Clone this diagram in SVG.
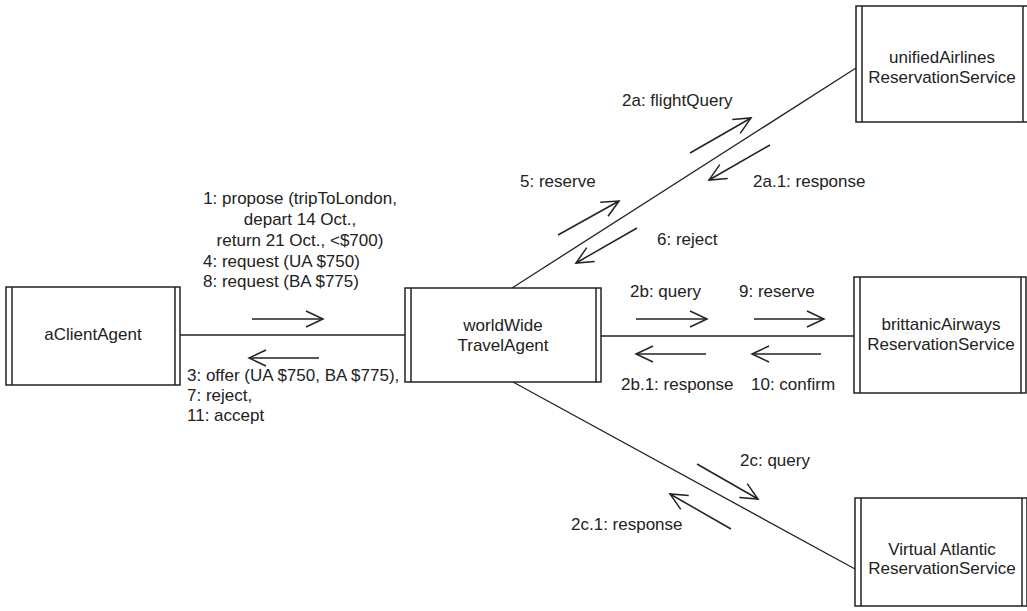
<svg xmlns="http://www.w3.org/2000/svg" width="1027" height="611" viewBox="0 0 1027 611">
<style>
.box{fill:#fff;stroke:#222;stroke-width:1.5}
.bar{stroke:#222;stroke-width:1.5}
.ln{stroke:#222;stroke-width:1.3;fill:none}
.ar{stroke:#222;stroke-width:1.5;fill:none;marker-end:url(#ah)}
text{font-family:"Liberation Sans",Arial,sans-serif;font-size:17px;fill:#222}
.c{text-anchor:middle}
</style>
<defs>
<marker id="ah" markerUnits="userSpaceOnUse" markerWidth="24" markerHeight="24" refX="18" refY="9" orient="auto">
<path d="M1,1 L18,9 L1,17" fill="none" stroke="#222" stroke-width="1.5"/>
</marker>
</defs>
<g id="connectors">
<line class="ln" x1="180" y1="335" x2="405" y2="335"/>
<line class="ln" x1="601" y1="336" x2="854" y2="336"/>
<line class="ln" x1="512" y1="288" x2="856" y2="68"/>
<line class="ln" x1="513" y1="382" x2="855" y2="569"/>
<line class="ar" x1="252" y1="319" x2="323" y2="319"/>
<line class="ar" x1="319" y1="358" x2="249" y2="358"/>
<line class="ar" x1="636" y1="319" x2="707" y2="319"/>
<line class="ar" x1="754" y1="319" x2="824" y2="319"/>
<line class="ar" x1="706" y1="354" x2="636" y2="354"/>
<line class="ar" x1="821" y1="354" x2="752" y2="354"/>
<line class="ar" x1="690" y1="153" x2="751" y2="118"/>
<line class="ar" x1="770" y1="145" x2="709" y2="180"/>
<line class="ar" x1="558" y1="235" x2="619" y2="201"/>
<line class="ar" x1="637" y1="228" x2="576" y2="263"/>
<line class="ar" x1="697" y1="464" x2="758" y2="499"/>
<line class="ar" x1="731" y1="529" x2="670" y2="494"/>
<text x="300" y="204" class="c">1: propose (tripToLondon,</text>
<text x="300" y="225" class="c">depart 14 Oct.,</text>
<text x="300" y="246" class="c">return 21 Oct., &lt;$700)</text>
<text x="203" y="267">4: request (UA $750)</text>
<text x="203" y="287">8: request (BA $775)</text>
<text x="187" y="381">3: offer (UA $750, BA $775),</text>
<text x="187" y="401">7: reject,</text>
<text x="187" y="421">11: accept</text>
<text x="622" y="106">2a: flightQuery</text>
<text x="753" y="187">2a.1: response</text>
<text x="520" y="187">5: reserve</text>
<text x="657" y="245">6: reject</text>
<text x="630" y="297">2b: query</text>
<text x="739" y="297">9: reserve</text>
<text x="621" y="390">2b.1: response</text>
<text x="751" y="390">10: confirm</text>
<text x="740" y="466">2c: query</text>
<text x="571" y="530">2c.1: response</text>
</g>
<g id="aClientAgent">
<rect class="box" x="6" y="287" width="174" height="98"/>
<line class="bar" x1="12" y1="287" x2="12" y2="385"/>
<line class="bar" x1="175" y1="287" x2="175" y2="385"/>
<text x="93" y="340" class="c">aClientAgent</text>
</g>
<g id="worldWideTravelAgent">
<rect class="box" x="405" y="288" width="196" height="94"/>
<line class="bar" x1="411" y1="288" x2="411" y2="382"/>
<line class="bar" x1="596" y1="288" x2="596" y2="382"/>
<text x="503" y="331" class="c">worldWide</text>
<text x="503" y="351" class="c">TravelAgent</text>
</g>
<g id="unifiedAirlines">
<rect class="box" x="856" y="6" width="172" height="116"/>
<line class="bar" x1="862" y1="6" x2="862" y2="122"/>
<line class="bar" x1="1023" y1="6" x2="1023" y2="122"/>
<text x="942" y="63" class="c">unifiedAirlines</text>
<text x="942" y="83" class="c">ReservationService</text>
</g>
<g id="brittanicAirways">
<rect class="box" x="854" y="277" width="172" height="116"/>
<line class="bar" x1="860" y1="277" x2="860" y2="393"/>
<line class="bar" x1="1021" y1="277" x2="1021" y2="393"/>
<text x="941" y="330" class="c">brittanicAirways</text>
<text x="941" y="350" class="c">ReservationService</text>
</g>
<g id="virtualAtlantic">
<rect class="box" x="855" y="498" width="172" height="108"/>
<line class="bar" x1="861" y1="498" x2="861" y2="606"/>
<line class="bar" x1="1022" y1="498" x2="1022" y2="606"/>
<text x="942" y="555" class="c">Virtual Atlantic</text>
<text x="942" y="574" class="c">ReservationService</text>
</g>
</svg>
